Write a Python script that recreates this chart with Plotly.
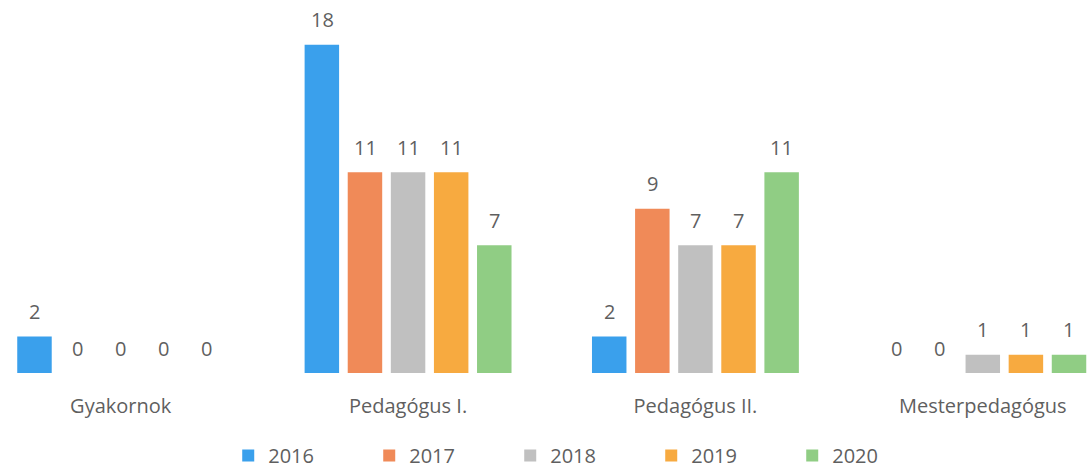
import plotly.graph_objects as go

categories = ["Gyakornok", "Pedagógus I.", "Pedagógus II.", "Mesterpedagógus"]
years = ["2016", "2017", "2018", "2019", "2020"]
v2016 = [2, 18, 2, 0]
v2017 = [0, 11, 9, 0]
v2018 = [0, 11, 7, 1]
v2019 = [0, 11, 7, 1]
v2020 = [0, 7, 11, 1]
series = [v2016, v2017, v2018, v2019, v2020]
colors = ["#3aa0ec", "#f08a58", "#c0c0c0", "#f7aa40", "#90cd84"]

FONT = "Open Sans"
TXT = "#5f5f5f"

fig = go.Figure()
for name, vals, col in zip(years, series, colors):
    fig.add_trace(go.Bar(name=name, x=categories, y=vals, marker_color=col,
                         marker_line_width=0))

pitch = 43
annotations = []
for i, vals in enumerate(series):
    for c, v in zip(categories, vals):
        annotations.append(dict(x=c, y=v, xref="x", yref="y", text=str(v),
                                showarrow=False, xshift=(i - 2) * pitch, yshift=25,
                                font=dict(family=FONT, size=20, color=TXT)))

fig.update_layout(
    width=1092, height=475,
    margin=dict(l=0, r=0, t=0, b=84),
    paper_bgcolor="white", plot_bgcolor="white",
    barmode="group", bargap=0.25, bargroupgap=0.2,
    annotations=annotations,
    xaxis=dict(range=[-0.42, 3.38], showgrid=False, showline=False, zeroline=False,
               ticks="", ticklabelstandoff=19,
               tickfont=dict(family=FONT, size=20, color=TXT)),
    yaxis=dict(range=[0, 20.45], visible=False),
    legend=dict(orientation="h", x=0.209, xanchor="left", y=-0.169, yanchor="top",
                entrywidth=96, entrywidthmode="pixels",
                font=dict(family=FONT, size=20, color=TXT)),
    showlegend=True,
)

fig.write_html("out.html", config={"displayModeBar": False},
               post_script="document.body.style.margin='0';document.body.style.overflow='hidden';")
